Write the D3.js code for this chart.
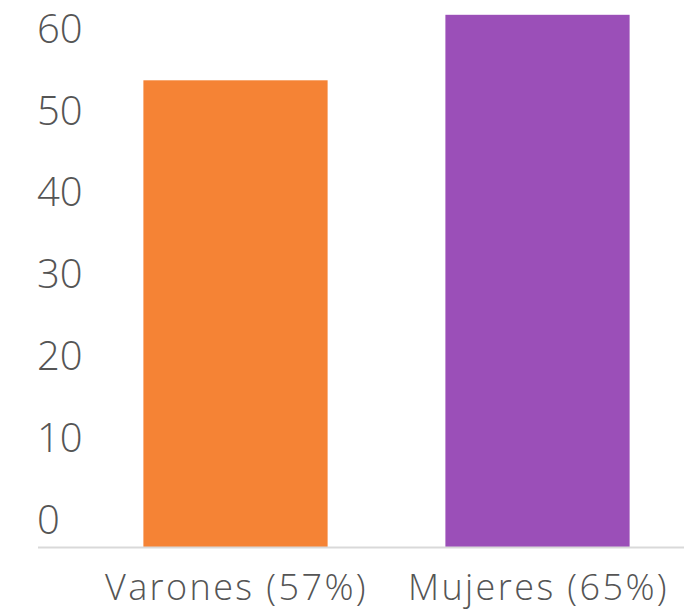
<!DOCTYPE html>
<html>
<head>
<meta charset="utf-8">
<script src="https://cdn.jsdelivr.net/npm/d3@7"></script>
<style>
  html, body { margin: 0; padding: 0; background: #fff; }
  svg { display: block; font-family: "Open Sans", sans-serif; }
</style>
</head>
<body>
<div id="chart"></div>
<script>
const categories = ["Varones (57%)", "Mujeres (65%)"];
const values = [57, 65];
const colors = ["#F58335", "#9B4FB8"];
const yTicks = [0, 10, 20, 30, 40, 50, 60];

const width = 684, height = 614;
const baseY = 547;

const svg = d3.select("#chart")
  .append("svg")
  .attr("width", width)
  .attr("height", height);

const x = d3.scaleBand()
  .domain(categories)
  .range([84.5, 688.5])
  .paddingInner(0.39)
  .paddingOuter(0.195);

const y = d3.scaleLinear()
  .domain([0, 57])
  .range([baseY, 80.3]);

// y labels sit above their tick positions
svg.append("g")
  .selectAll("text")
  .data(yTicks)
  .join("text")
  .attr("x", 37)
  .attr("y", d => y(d) - 13)
  .attr("fill", "#555")
  .attr("font-size", "40px")
  .attr("font-weight", 350)
  .text(d => d);

svg.append("g")
  .selectAll("rect")
  .data(values)
  .join("rect")
  .attr("x", (d, i) => x(categories[i]))
  .attr("y", d => y(d))
  .attr("width", x.bandwidth())
  .attr("height", d => baseY - y(d))
  .attr("fill", (d, i) => colors[i]);

svg.append("line")
  .attr("x1", 38)
  .attr("x2", width)
  .attr("y1", baseY + 0.5)
  .attr("y2", baseY + 0.5)
  .attr("stroke", "#d9d9d9")
  .attr("stroke-width", 2);

svg.append("g")
  .selectAll("text")
  .data(categories)
  .join("text")
  .attr("x", d => x(d) + x.bandwidth() / 2 + 1)
  .attr("y", 600)
  .attr("text-anchor", "middle")
  .attr("fill", "#555")
  .attr("font-size", "36px")
  .attr("font-weight", 350)
  .attr("letter-spacing", "2.4px")
  .text(d => d);
</script>
</body>
</html>
